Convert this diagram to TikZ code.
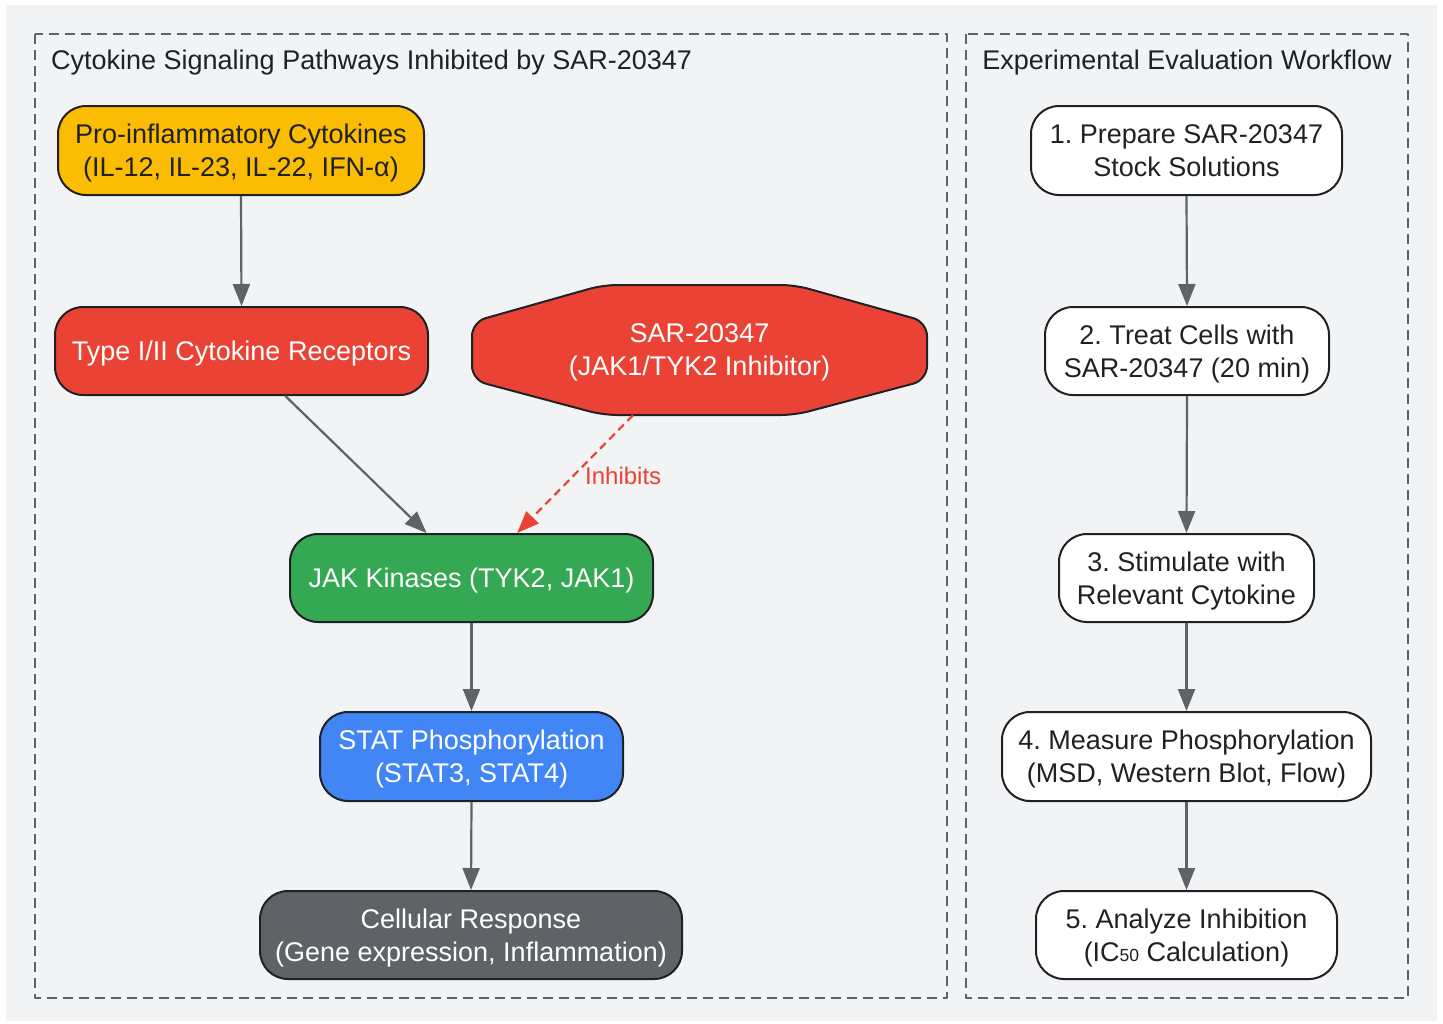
\documentclass[tikz,border=0pt]{standalone}
\usepackage{fontspec}
\setmainfont{Liberation Sans}
\usetikzlibrary{arrows.meta,calc}
\frenchspacing
\definecolor{bg}{HTML}{F1F3F5}
\definecolor{yel}{HTML}{FBBC04}
\definecolor{redc}{HTML}{EA4335}
\definecolor{grn}{HTML}{34A853}
\definecolor{blu}{HTML}{4285F4}
\definecolor{gry}{HTML}{5F6368}
\definecolor{ink}{HTML}{202124}
\tikzset{
  cluster/.style={draw=gry, line width=2.5, dash pattern=on 10 off 6},
  ctitle/.style={font=\fontsize{27}{33}\selectfont, text=ink, inner sep=0},
  flow/.style={draw=ink, line width=2, rounded corners=28, align=center,
    font=\fontsize{27}{33}\selectfont, inner sep=0, text depth=0pt},
  darktext/.style={text=ink},
  lighttext/.style={text=white},
  wf/.style={flow, fill=white, text=ink},
  arr/.style={draw=gry, line width=2.2, -{Triangle[length=22,width=17]}},
  inh/.style={draw=redc, line width=2.2, dash pattern=on 8 off 5, -{Triangle[length=22,width=17]}},
  lbl/.style={text=redc, font=\fontsize{24}{28}\selectfont, inner sep=0}
}
\begin{document}
\begin{tikzpicture}[x=1pt,y=-1pt, line join=round]
\useasboundingbox (0,0) rectangle (1443,1023);
\fill[white] (0,0) rectangle (1443,1023);
\fill[bg] (6,5) rectangle (1437,1021);
% clusters
\draw[cluster] (35,34) rectangle (947,998);
\draw[cluster] (966,34) rectangle (1408,998);
\node[ctitle, anchor=base west] (t1) at (51,69.5) {Cytokine Signaling Pathways Inhibited by SAR-20347};
\node[ctitle, anchor=base] (t2) at (1187,69.5) {Experimental Evaluation Workflow};
% left nodes
\node[flow, fill=yel, darktext, minimum width=366, minimum height=89] (pro) at (241,150.5)
  {Pro-inflammatory Cytokines\\(IL-12, IL-23, IL-22, IFN-α)};
\node[flow, fill=redc, lighttext, minimum width=373, minimum height=88] (type) at (241.5,351)
  {Type I/II Cytokine Receptors};
\fill[redc, draw=ink, line width=2, rounded corners=14]
  (603,285) -- (795,285) -- (927,322) -- (927,380) -- (795,415) -- (603,415) -- (472,380) -- (472,322) -- cycle;
\node[align=center, text=white, font=\fontsize{27}{33}\selectfont, inner sep=0, text depth=0pt, minimum width=455, minimum height=130] (sar) at (699.5,350)
  {SAR-20347\\(JAK1/TYK2 Inhibitor)};
\node[flow, fill=grn, lighttext, minimum width=363, minimum height=88] (jak) at (471.5,578)
  {JAK Kinases (TYK2, JAK1)};
\node[flow, fill=blu, lighttext, minimum width=303, minimum height=89] (stat) at (471.5,756.5)
  {STAT Phosphorylation\\(STAT3, STAT4)};
\node[flow, fill=gry, lighttext, minimum width=422, minimum height=88] (cell) at (471,935)
  {Cellular Response\\(Gene expression, Inflammation)};
% right nodes
\node[wf, minimum width=311, minimum height=89] (s1) at (1186.5,150.5)
  {1. Prepare SAR-20347\\Stock Solutions};
\node[wf, minimum width=284, minimum height=88] (s2) at (1187,351)
  {2. Treat Cells with\\SAR-20347 (20 min)};
\node[wf, minimum width=255, minimum height=88] (s3) at (1186.5,578)
  {3. Stimulate with\\Relevant Cytokine};
\node[wf, minimum width=369, minimum height=89] (s4) at (1186.5,756.5)
  {4. Measure Phosphorylation\\(MSD, Western Blot, Flow)};
\node[wf, minimum width=301, minimum height=88] (s5) at (1186.5,935)
  {5. Analyze Inhibition\\(IC{\fontsize{17.5}{17.5}\selectfont 50} Calculation)};
% edges
\draw[arr] (pro.south) -- (type.north);
\draw[arr] ($(type.south west)!0.617!(type.south east)$) -- ($(jak.north west)!0.377!(jak.north east)$);
\draw[inh] ($(sar.south west)!0.354!(sar.south east)$) -- ($(jak.north west)!0.625!(jak.north east)$);
\node[lbl, anchor=west] (inhl) at (585,476) {Inhibits};
\draw[arr] (jak.south) -- (stat.north);
\draw[arr] (stat.south) -- (cell.north);
\draw[arr] (s1.south) -- (s2.north);
\draw[arr] (s2.south) -- (s3.north);
\draw[arr] (s3.south) -- (s4.north);
\draw[arr] (s4.south) -- (s5.north);
\end{tikzpicture}
\end{document}
